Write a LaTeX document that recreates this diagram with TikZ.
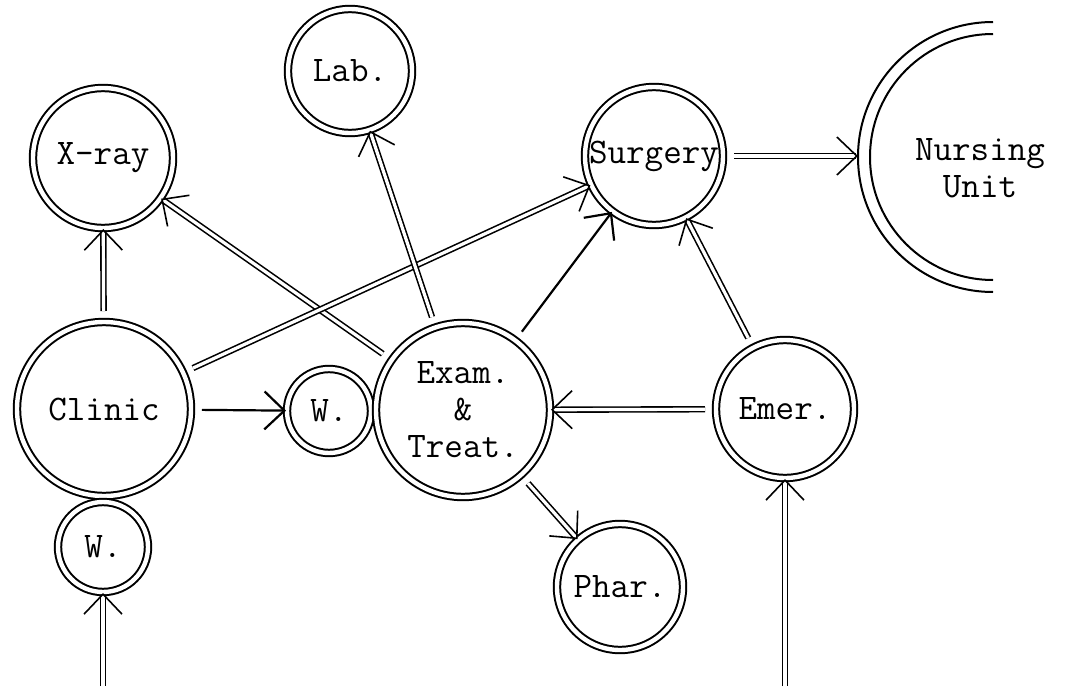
\documentclass[tikz,border=0pt]{standalone}
\usetikzlibrary{arrows.meta}

\newcommand{\tyfont}{\fontsize{18pt}{18.5pt}\ttfamily\selectfont}

\tikzset{
  place/.style={circle,draw,double,line width=1pt,double distance=2.2pt,inner sep=0pt,font=\tyfont},
  flow/.style={double,line width=0.8pt,double distance=1.6pt,shorten <=5pt,-{Straight Barb[length=10pt,width=19pt]}},
  flowone/.style={line width=1.1pt,shorten <=5pt,-{Straight Barb[length=10pt,width=19pt]}}
}

\begin{document}
\begin{tikzpicture}[x=0.5pt,y=-0.5pt]
  \useasboundingbox (0,0) rectangle (1067,696);
  % departments
  \node[place,minimum size=70pt] (xray) at (103,158) {X-ray};
  \node[place,minimum size=62pt] (lab) at (350,71) {Lab.};
  \node[place,minimum size=69pt] (surgery) at (654,156) {Surgery};
  \node[place,minimum size=87pt] (clinic) at (104,409) {Clinic};
  \node[place,minimum size=45pt] (wl) at (103,547) {W.};
  \node[place,minimum size=42pt] (wm) at (329,411) {W.};
  \node[place,minimum size=87pt,align=center] (exam) at (463,410) {Exam.\\\&\\Treat.};
  \node[place,minimum size=69pt] (emer) at (785,409) {Emer.};
  \node[place,minimum size=63pt] (phar) at (620,587) {Phar.};
  % nursing unit, open to the right
  \draw[line width=1pt] (993,22) arc[start angle=90,end angle=270,radius=67.5pt];
  \draw[line width=1pt] (993,34) arc[start angle=90,end angle=270,radius=61.5pt];
  \node[font=\tyfont,align=center] (nursing) at (980,168) {Nursing\\Unit};
  \coordinate (nuedge) at (858,156);
  % entrances
  \coordinate (inl) at (103,696);
  \coordinate (inr) at (785,696);
  % flows
  \draw[flow] (clinic) -- (xray);
  \draw[flow] (exam) -- (xray);
  \draw[flow] (clinic) -- (surgery);
  \draw[flow] (exam) -- (lab);
  \draw[flowone] (exam) -- (surgery);
  \draw[flow] (emer) -- (surgery);
  \draw[flow] (surgery) -- (nuedge);
  \draw[flowone] (clinic) -- (wm);
  \draw[flow] (emer) -- (exam);
  \draw[flow] (exam) -- (phar);
  \draw[flow] (inl) -- (wl);
  \draw[flow] (inr) -- (emer);
\end{tikzpicture}
\end{document}
